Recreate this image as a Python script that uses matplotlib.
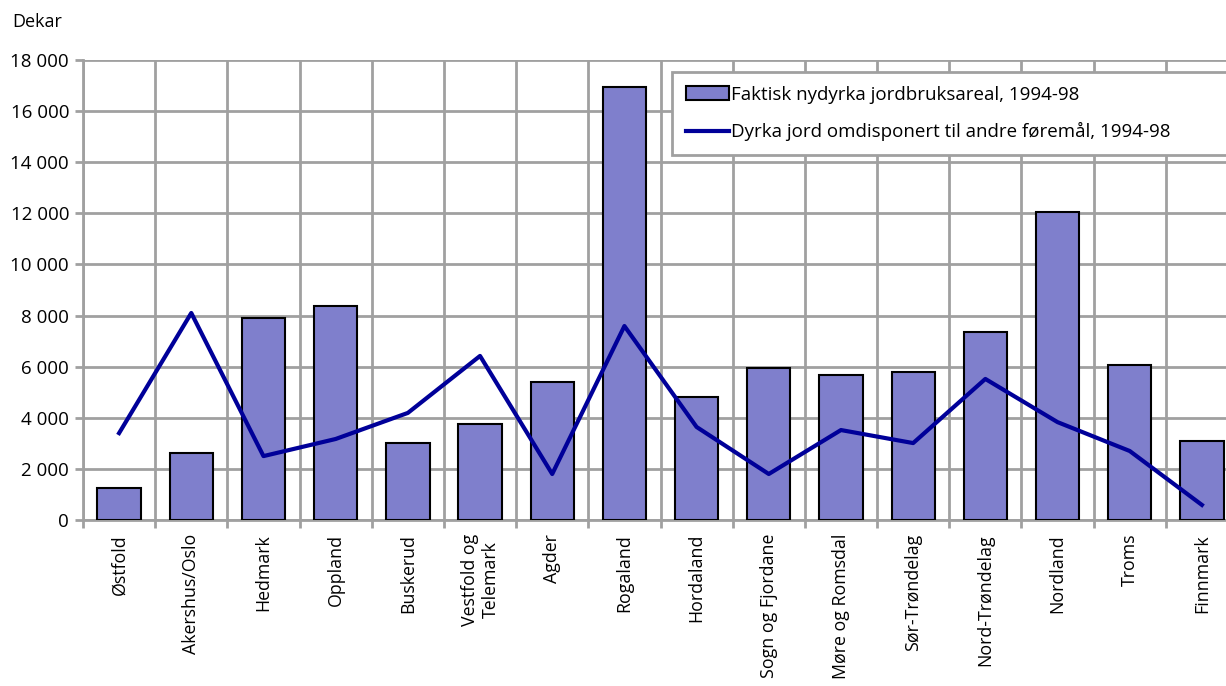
import matplotlib
matplotlib.use("Agg")
import matplotlib.pyplot as plt
import numpy as np

plt.rcParams['font.family'] = ['Open Sans', 'DejaVu Sans']

# fylker
fylker = ["Østfold", "Akershus/Oslo", "Hedmark", "Oppland", "Buskerud",
          "Vestfold og\nTelemark", "Agder", "Rogaland", "Hordaland",
          "Sogn og Fjordane", "Møre og Romsdal", "Sør-Trøndelag",
          "Nord-Trøndelag", "Nordland", "Troms", "Finnmark"]
nydyrka = [1250, 2620, 7900, 8370, 3010, 3760, 5400, 16940, 4810,
           5950, 5670, 5790, 7360, 12050, 6060, 3090]
omdisponert = [3400, 8100, 2500, 3170, 4190, 6420, 1800, 7590, 3640,
               1800, 3520, 3010, 5520, 3830, 2700, 590]
yticks = list(range(0, 18001, 2000))

label_bar = "Faktisk nydyrka jordbruksareal, 1994-98"
label_line = "Dyrka jord omdisponert til andre føremål, 1994-98"

grid_col = "#A0A0A0"
fs = 13.5

fig = plt.figure(figsize=(12.26, 6.86), dpi=100)
# axes goes a bit past the right edge, like the cropped original
ax = fig.add_axes([83 / 1226, 1 - 520 / 686, 1155 / 1226, 460 / 686])

x = np.arange(len(fylker))
bars = ax.bar(x, nydyrka, width=0.6, color="#7F7FCC", edgecolor="black",
              linewidth=1.5, label=label_bar, zorder=3)
line, = ax.plot(x, omdisponert, color="#000099", linewidth=3,
                label=label_line, zorder=4)

ax.set_xlim(-0.5, len(fylker) - 0.5)
ax.set_ylim(0, 18000)
ax.set_yticks(yticks)
ax.set_yticklabels([f"{v:,}".replace(",", " ") for v in yticks], fontsize=fs)

ax.set_xticks(x)
ax.set_xticklabels(fylker, rotation=90, fontsize=12.8, va="top",
                   ha="center", multialignment="center")
ax.set_xticks(np.arange(-0.5, len(fylker), 1), minor=True)
ax.tick_params(axis="x", which="major", length=0, pad=10)
ax.tick_params(axis="x", which="minor", length=6, width=2, color=grid_col)
ax.tick_params(axis="y", length=6, width=2, color=grid_col, pad=4)

ax.grid(axis="y", which="major", color=grid_col, linewidth=2, zorder=0)
ax.grid(axis="x", which="minor", color=grid_col, linewidth=2, zorder=0)
ax.set_axisbelow(True)
for s in ["top", "right"]:
    ax.spines[s].set_visible(False)
for s in ["left", "bottom"]:
    ax.spines[s].set_color(grid_col)
    ax.spines[s].set_linewidth(2)

fig.text(12 / 1226, 1 - 22 / 686, "Dekar", fontsize=13, va="center")

leg = ax.legend([bars, line], [label_bar, label_line],
                loc="upper left", bbox_to_anchor=(0.51, 0.975, 0.6, 0),
                mode="expand", fontsize=fs, frameon=True, fancybox=False,
                borderpad=0.75, labelspacing=1.0, handlelength=2.3,
                handleheight=0.8, handletextpad=0.1, borderaxespad=0)
leg.get_frame().set_edgecolor(grid_col)
leg.get_frame().set_linewidth(2)
leg.get_frame().set_alpha(1)

fig.savefig("out.png", dpi=100)
